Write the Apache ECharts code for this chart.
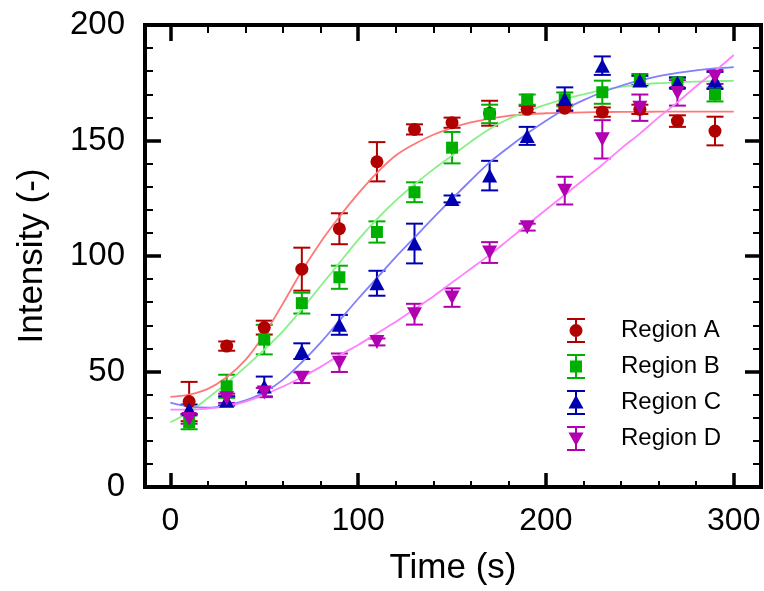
<!DOCTYPE html>
<html><head><meta charset="utf-8">
<script src="https://cdn.jsdelivr.net/npm/echarts@6/dist/echarts.min.js"></script>
<style>html,body{margin:0;padding:0;background:#fff}#c{width:764px;height:591px}</style>
</head><body><div id="c"></div>
<script>
// ---- data ----
const seriesNames = ['Region A', 'Region B', 'Region C', 'Region D'];
const pointTimes = [10, 30, 50, 70, 90, 110, 130, 150, 170, 190, 210, 230, 250, 270, 290];
const regionA = [37, 61, 69, 94.3, 111.8, 140.8, 154.8, 157.7, 161.8, 163.5, 164, 162.3, 163.5, 158.4, 154.1];
const errA    = [8.5, 2, 3, 9.3, 6.7, 8.5, 2.2, 2.2, 5.4, 1.5, 1.5, 2, 2, 2.5, 6.2];
const regionB = [28, 43.6, 63.8, 79.6, 90.8, 110.4, 127.6, 146.9, 161.5, 167.7, 167.8, 170.9, 176.3, 174.9, 169.9];
const errB    = [3, 5, 6.4, 4.5, 5, 4.6, 4.3, 6.8, 4, 2.2, 3, 5, 2.5, 2.5, 3];
const regionC = [33.7, 37.3, 43.5, 58.8, 70.2, 88.2, 105.4, 124.7, 134.8, 152, 168, 182.4, 176, 175, 176];
const errC    = [2, 2, 4.3, 3.4, 4.3, 5.4, 8.6, 1.5, 6.4, 3.9, 5, 4, 2, 2.2, 3.7];
const regionD = [29.4, 38.4, 40.9, 47.3, 53.8, 62.8, 74.8, 82, 101.5, 112.5, 128.3, 150.5, 164.2, 170.6, 177.5];
const errD    = [2, 2, 2, 2.3, 4, 1.5, 4.5, 4, 4.5, 1.5, 6, 8.3, 5.7, 5.5, 3];

const curveTimes = [0,10,20,30,40,50,60,70,80,90,100,110,120,130,140,150,160,170,180,190,200,210,220,230,240,250,260,270,280,290,300];
const fitA = [39,40,42.5,47.5,55,66,79.5,93.5,106,117,127,136,143.5,148.5,152.5,155.5,157.8,159.5,160.7,161.3,161.8,162,162.2,162.3,162.4,162.4,162.5,162.5,162.5,162.5,162.5];
const fitB = [28,32.5,38.5,45,52,59.5,67.5,77,87,97,107,116,124,131,137.5,143.5,149.5,155,159.3,162.7,165.5,168,170,171.8,173.2,174.2,174.8,175.2,175.5,175.7,175.8];
const fitC = [36.5,34.8,34.3,35.3,37.5,41,46.5,54,62.5,72,81.5,90.5,99.5,108,116.5,124.7,132.8,140.5,147,153,158.5,163.5,167.5,170.9,173.7,176,177.9,179.3,180.4,181.2,181.8];
const fitD = [33.5,33.5,34,35,37,40,43.5,47.5,52,57,61.5,66.5,71.5,77,82.5,88.5,94.5,100.5,107,113.5,120,126.5,133,139.5,146.5,153,160,166.5,173.5,180,187];

const xMin = -13.5, xMax = 314.5;
const yMin = 0, yMax = 200;

// ---- styles ----
const markerColors = ['#b00000', '#00b000', '#0000b0', '#b000b0'];
const curveColors = ['#ff7878', '#88f088', '#7f7fff', '#ff80ff'];
const FONT = 'Liberation Sans, Arial, sans-serif';

const W = 764, H = 591;
const gL = 145, gR = 3, gT = 25, gB = 102;
const pxPerUnit = (W - gL - gR) / (xMax - xMin);
const g2L = gL + (0 - xMin) * pxPerUnit;
const g2R = gR + (xMax - 300) * pxPerUnit;

const pointSets = [[regionA, errA], [regionB, errB], [regionC, errC], [regionD, errD]];
const fits = [fitA, fitB, fitC, fitD];
const symbols = [
  {symbol: 'circle', symbolSize: 13, rot: 0},
  {symbol: 'rect', symbolSize: 12, rot: 0},
  {symbol: 'triangle', symbolSize: [15, 14], rot: 0},
  {symbol: 'triangle', symbolSize: [15, 14], rot: 180}
];
const legendIcons = [
  'path://M0,0H18V2H10V23H18V25H0V23H8V2H0Z M2.5,12.5A6.5,6.5 0 1,1 15.5,12.5A6.5,6.5 0 1,1 2.5,12.5Z',
  'path://M0,0H18V2H10V23H18V25H0V23H8V2H0Z M3,6.5H15V18.5H3Z',
  'path://M0,0H18V2H10V23H18V25H0V23H8V2H0Z M9,5L16.5,18.5L1.5,18.5Z',
  'path://M0,0H18V2H10V23H18V25H0V23H8V2H0Z M1.5,6.5L16.5,6.5L9,20Z'
];

const series = [];
fits.forEach((f, i) => {
  series.push({
    type: 'line', name: 'fit' + i, xAxisIndex: 0, yAxisIndex: 0,
    data: curveTimes.map((t, k) => [t, f[k]]),
    smooth: 0.35, showSymbol: false, symbol: 'none', silent: true,
    lineStyle: {color: curveColors[i], width: 1.8}, z: 2
  });
});
pointSets.forEach(([vals, errs], i) => {
  const color = markerColors[i];
  series.push({
    type: 'custom', name: seriesNames[i], xAxisIndex: 0, yAxisIndex: 0, z: 2, silent: true,
    data: pointTimes.map((t, k) => [t, vals[k], errs[k]]),
    encode: {x: 0, y: 1},
    renderItem: function (params, api) {
      const x = api.value(0), y = api.value(1), e = api.value(2);
      const top = api.coord([x, y + e]), bot = api.coord([x, y - e]);
      const hw = 8.5;
      const st = {stroke: color, lineWidth: 2, fill: null};
      return {type: 'group', children: [
        {type: 'line', shape: {x1: top[0], y1: top[1], x2: bot[0], y2: bot[1]}, style: st},
        {type: 'line', shape: {x1: top[0] - hw, y1: top[1], x2: top[0] + hw, y2: top[1]}, style: st},
        {type: 'line', shape: {x1: bot[0] - hw, y1: bot[1], x2: bot[0] + hw, y2: bot[1]}, style: st}
      ]};
    }
  });
  series.push({
    type: 'scatter', name: seriesNames[i], xAxisIndex: 0, yAxisIndex: 0, z: 2,
    data: pointTimes.map((t, k) => [t, vals[k]]),
    symbol: symbols[i].symbol, symbolSize: symbols[i].symbolSize, symbolRotate: symbols[i].rot,
    itemStyle: {color: color, opacity: 1}
  });
});

const tickAxisCommon = {
  min: 0, max: 300, interval: 100,
  axisLine: {show: false, onZero: false}, splitLine: {show: false},
  axisTick: {show: true, inside: true, length: 16, lineStyle: {color: '#000', width: 3.5}},
  minorTick: {show: true, splitNumber: 5, length: 8, lineStyle: {color: '#000', width: 2}},
  minorSplitLine: {show: false}
};
const yCommon = {
  type: 'value', min: yMin, max: yMax, interval: 50,
  axisLine: {show: false, onZero: false}, splitLine: {show: false},
  axisTick: {show: true, inside: true, length: 16, lineStyle: {color: '#000', width: 3.5}},
  minorTick: {show: true, splitNumber: 5, length: 8, lineStyle: {color: '#000', width: 2}}
};

const option = {
  animation: false,
  backgroundColor: '#fff',
  textStyle: {fontFamily: FONT},
  grid: [
    {left: gL, right: gR, top: gT, bottom: gB, show: true, borderWidth: 4, borderColor: '#000', backgroundColor: 'transparent', z: 10},
    {left: g2L, right: g2R, top: gT, bottom: gB, show: false}
  ],
  xAxis: [
    {type: 'value', gridIndex: 0, min: xMin, max: xMax, position: 'bottom',
     axisLine: {show: false, onZero: false}, axisTick: {show: false}, axisLabel: {show: false}, splitLine: {show: false},
     name: 'Time (s)', nameLocation: 'middle', nameGap: 64,
     nameTextStyle: {fontSize: 35, color: '#000', fontFamily: FONT}},
    Object.assign({type: 'value', gridIndex: 1, position: 'bottom',
     axisLabel: {show: true, fontSize: 32, color: '#000', margin: 16, fontFamily: FONT}}, tickAxisCommon),
    Object.assign({type: 'value', gridIndex: 1, position: 'top',
     axisLabel: {show: false}}, tickAxisCommon)
  ],
  yAxis: [
    Object.assign({gridIndex: 0, position: 'left',
      axisLabel: {show: true, fontSize: 33, color: '#000', margin: 20, fontFamily: FONT},
      name: 'Intensity (-)', nameLocation: 'middle', nameGap: 95,
      nameTextStyle: {fontSize: 35, color: '#000', fontFamily: FONT}}, yCommon),
    Object.assign({gridIndex: 0, position: 'right', axisLabel: {show: false}}, yCommon),
    {type: 'value', gridIndex: 1, min: yMin, max: yMax, show: false,
     axisLine: {show: false, onZero: false}, axisTick: {show: false}, axisLabel: {show: false}, splitLine: {show: false}}
  ],
  legend: {
    show: true, orient: 'vertical', left: 567, top: 318, padding: 0,
    itemWidth: 18, itemHeight: 25, itemGap: 11, selectedMode: false,
    data: seriesNames.map((n, i) => ({name: n, icon: legendIcons[i], itemStyle: {color: markerColors[i]}})),
    textStyle: {fontSize: 24, color: '#000', fontFamily: FONT, padding: [0, 0, 0, 31], lineHeight: 25}
  },
  series: series
};

const chart = echarts.init(document.getElementById('c'), null, {renderer: 'canvas'});
chart.setOption(option);
</script>
</body></html>
